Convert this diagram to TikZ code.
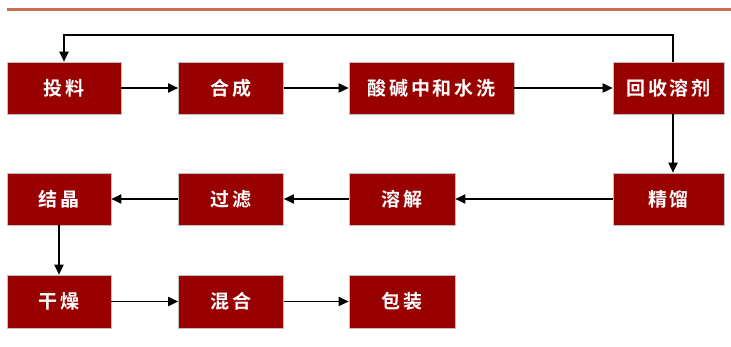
\documentclass[tikz,border=0pt]{standalone}
\usepackage{fontspec}
\newfontfamily\cjk{Noto Sans CJK SC}[BoldFont={* Bold},LetterSpace=14]
\usetikzlibrary{arrows.meta}
\definecolor{boxred}{HTML}{990000}
\definecolor{rule}{HTML}{C87052}
\begin{document}
\begin{tikzpicture}[x=1pt,y=-1pt,
  procbox/.style={fill=boxred,draw=black!25,line width=0.6pt,inner sep=0pt,
     text=white,font=\cjk\bfseries\fontsize{19}{19}\selectfont},
  flow/.style={line width=1.8pt,-{Triangle[length=10pt,width=9pt]}}]
\useasboundingbox (0,0) rectangle (731,347);
\fill[rule] (7,8) rectangle (731,11);
% row 1
\node[procbox,minimum width=114pt,minimum height=52pt] (a) at (64,88) {投料};
\node[procbox,minimum width=105pt,minimum height=52pt] (b) at (231,88) {合成};
\node[procbox,minimum width=165pt,minimum height=52pt] (c) at (431.5,88) {酸碱中和水洗};
\node[procbox,minimum width=111pt,minimum height=52pt] (d) at (668.5,88) {回收溶剂};
% row 2
\node[procbox,minimum width=111pt,minimum height=52pt] (e) at (668.5,199) {精馏};
\node[procbox,minimum width=106pt,minimum height=52pt] (f) at (402,199) {溶解};
\node[procbox,minimum width=105pt,minimum height=52pt] (g) at (231,199) {过滤};
\node[procbox,minimum width=104pt,minimum height=52pt] (h) at (59,199) {结晶};
% row 3
\node[procbox,minimum width=104pt,minimum height=53pt] (i) at (59,301.5) {干燥};
\node[procbox,minimum width=105pt,minimum height=53pt] (j) at (231,301.5) {混合};
\node[procbox,minimum width=106pt,minimum height=53pt] (k) at (402,301.5) {包装};
\coordinate (tr) at (673,35);
\coordinate (tl) at (64,35);
\draw[flow] (a) -- (b);
\draw[flow] (b) -- (c);
\draw[flow] (c) -- (d);
\draw[flow] (d.south -| tr) -- (e.north -| tr);
\draw[flow] (e) -- (f);
\draw[flow] (f) -- (g);
\draw[flow] (g) -- (h);
\draw[flow] (h.south) -- (i.north);
\draw[flow] (i) -- (j);
\draw[flow] (j) -- (k);
\draw[flow] (d.north -| tr) -- (tr) -- (tl) -- (a.north);
\end{tikzpicture}
\end{document}
